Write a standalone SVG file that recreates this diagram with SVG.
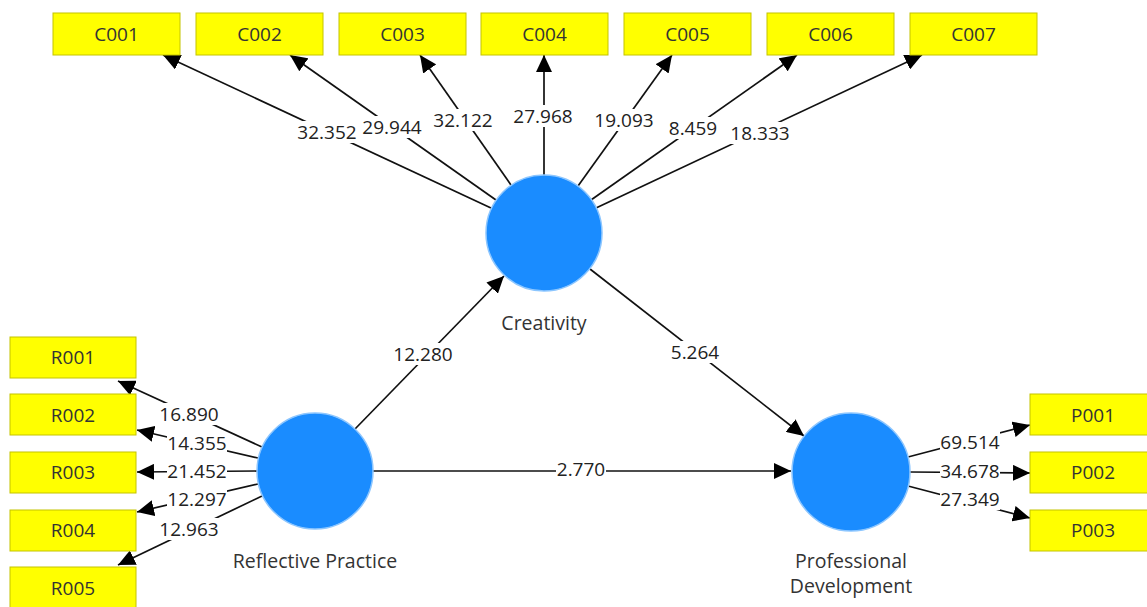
<svg xmlns="http://www.w3.org/2000/svg" width="1147" height="607" viewBox="0 0 1147 607">
<style>
.box{fill:#ffff00;stroke:#c4c400;stroke-width:1}
.bt{font-family:"Open Sans","Noto Sans",sans-serif;font-size:19px;fill:#333;text-anchor:middle;dominant-baseline:central}
.lv{fill:#1a8cff;stroke:#8cc6ff;stroke-width:1.5}
.nt{font-family:"Open Sans","Noto Sans",sans-serif;font-size:19.5px;fill:#333;text-anchor:middle;dominant-baseline:central}
.ln{stroke:#111;stroke-width:1.7;fill:none;marker-end:url(#ah)}
.lb{fill:#fff}
.lt{font-family:"Open Sans","Noto Sans",sans-serif;font-size:19px;fill:#222;text-anchor:middle;dominant-baseline:central}
</style>
<defs>
<marker id="ah" markerUnits="userSpaceOnUse" markerWidth="18" markerHeight="16" refX="17" refY="8" orient="auto">
<path d="M0,0 L17,8 L0,16 Z" fill="#000"/>
</marker>
</defs>
<rect width="1147" height="607" fill="#fff"/>

<g id="connectors">
<line class="ln" x1="491" y1="208" x2="163" y2="55"/>
<line class="ln" x1="496" y1="200" x2="290" y2="55"/>
<line class="ln" x1="511" y1="185" x2="420" y2="55"/>
<line class="ln" x1="544" y1="175" x2="544" y2="55"/>
<line class="ln" x1="578" y1="186" x2="672" y2="55"/>
<line class="ln" x1="591" y1="200" x2="797" y2="55"/>
<line class="ln" x1="596" y1="208" x2="922" y2="55"/>

<line class="ln" x1="262" y1="447" x2="118" y2="381"/>
<line class="ln" x1="258" y1="458" x2="137" y2="430"/>
<line class="ln" x1="257" y1="471" x2="137" y2="472"/>
<line class="ln" x1="258" y1="484" x2="137" y2="512"/>
<line class="ln" x1="262" y1="496" x2="118" y2="565"/>

<line class="ln" x1="908" y1="457" x2="1030" y2="425"/>
<line class="ln" x1="910" y1="472" x2="1030" y2="473"/>
<line class="ln" x1="908" y1="486" x2="1030" y2="518"/>

<line class="ln" x1="355" y1="429" x2="504" y2="276"/>
<line class="ln" x1="590" y1="269" x2="804" y2="436"/>
<line class="ln" x1="373" y1="471" x2="791" y2="471"/>

<g id="edge-labels">
<rect class="lb" x="297" y="121" width="60" height="22"/><text class="lt" x="327" y="132">32.352</text>
<rect class="lb" x="362" y="116" width="60" height="22"/><text class="lt" x="392" y="127">29.944</text>
<rect class="lb" x="433" y="109" width="60" height="22"/><text class="lt" x="463" y="120">32.122</text>
<rect class="lb" x="513" y="105" width="60" height="22"/><text class="lt" x="543" y="116">27.968</text>
<rect class="lb" x="594" y="109" width="60" height="22"/><text class="lt" x="624" y="120">19.093</text>
<rect class="lb" x="668" y="117" width="50" height="22"/><text class="lt" x="693" y="128">8.459</text>
<rect class="lb" x="730" y="122" width="60" height="22"/><text class="lt" x="760" y="133">18.333</text>

<rect class="lb" x="159" y="403" width="60" height="22"/><text class="lt" x="189" y="414">16.890</text>
<rect class="lb" x="167" y="432" width="60" height="22"/><text class="lt" x="197" y="443">14.355</text>
<rect class="lb" x="167" y="460" width="60" height="22"/><text class="lt" x="197" y="471">21.452</text>
<rect class="lb" x="167" y="488" width="60" height="22"/><text class="lt" x="197" y="499">12.297</text>
<rect class="lb" x="159" y="518" width="60" height="22"/><text class="lt" x="189" y="529">12.963</text>

<rect class="lb" x="940" y="431" width="60" height="22"/><text class="lt" x="970" y="442">69.514</text>
<rect class="lb" x="940" y="460" width="60" height="22"/><text class="lt" x="970" y="471">34.678</text>
<rect class="lb" x="940" y="488" width="60" height="22"/><text class="lt" x="970" y="499">27.349</text>

<rect class="lb" x="393" y="343" width="60" height="22"/><text class="lt" x="423" y="354">12.280</text>
<rect class="lb" x="670" y="341" width="50" height="22"/><text class="lt" x="695" y="352">5.264</text>
<rect class="lb" x="556" y="458" width="50" height="22"/><text class="lt" x="581" y="469">2.770</text>
</g>
</g>

<g id="C001"><rect class="box" x="53" y="13" width="127" height="42"/><text class="bt" x="116.5" y="34">C001</text></g>
<g id="C002"><rect class="box" x="196" y="13" width="127" height="42"/><text class="bt" x="259.5" y="34">C002</text></g>
<g id="C003"><rect class="box" x="339" y="13" width="127" height="42"/><text class="bt" x="402.5" y="34">C003</text></g>
<g id="C004"><rect class="box" x="481" y="13" width="127" height="42"/><text class="bt" x="544.5" y="34">C004</text></g>
<g id="C005"><rect class="box" x="624" y="13" width="127" height="42"/><text class="bt" x="687.5" y="34">C005</text></g>
<g id="C006"><rect class="box" x="767" y="13" width="127" height="42"/><text class="bt" x="830.5" y="34">C006</text></g>
<g id="C007"><rect class="box" x="910" y="13" width="127" height="42"/><text class="bt" x="973.5" y="34">C007</text></g>

<g id="R001"><rect class="box" x="10" y="337" width="126" height="41"/><text class="bt" x="73" y="357">R001</text></g>
<g id="R002"><rect class="box" x="10" y="394" width="126" height="41"/><text class="bt" x="73" y="415">R002</text></g>
<g id="R003"><rect class="box" x="10" y="452" width="126" height="41"/><text class="bt" x="73" y="472">R003</text></g>
<g id="R004"><rect class="box" x="10" y="510" width="126" height="41"/><text class="bt" x="73" y="530">R004</text></g>
<g id="R005"><rect class="box" x="10" y="567" width="126" height="41"/><text class="bt" x="73" y="588">R005</text></g>

<g id="P001"><rect class="box" x="1030" y="394" width="126" height="41"/><text class="bt" x="1093" y="415">P001</text></g>
<g id="P002"><rect class="box" x="1030" y="452" width="126" height="41"/><text class="bt" x="1093" y="472">P002</text></g>
<g id="P003"><rect class="box" x="1030" y="510" width="126" height="41"/><text class="bt" x="1093" y="530">P003</text></g>

<g id="Creativity"><circle class="lv" cx="544" cy="233" r="58"/><text class="nt" x="544" y="322">Creativity</text></g>
<g id="ReflectivePractice"><circle class="lv" cx="315" cy="471" r="58"/><text class="nt" x="315" y="560">Reflective Practice</text></g>
<g id="ProfessionalDevelopment"><circle class="lv" cx="851" cy="472" r="59"/><text class="nt" x="851" y="560">Professional</text><text class="nt" x="851" y="585">Development</text></g>
</svg>
